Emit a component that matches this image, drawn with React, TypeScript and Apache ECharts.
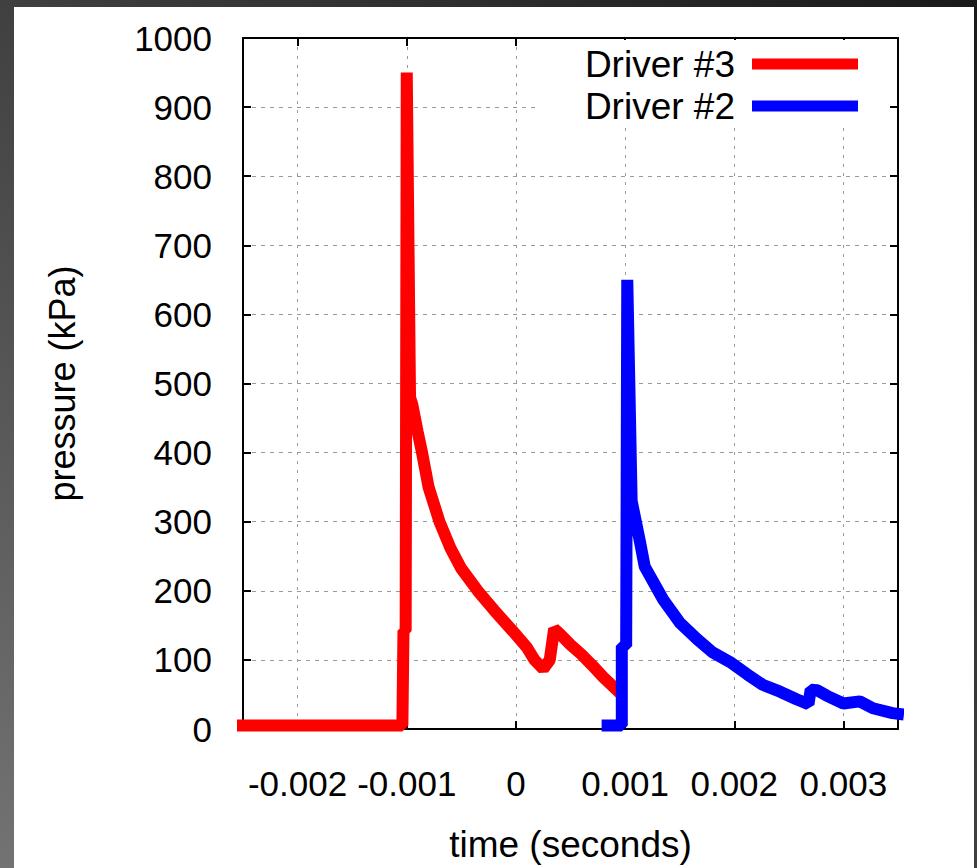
import React, { useEffect, useRef } from "react";
import * as echarts from "echarts";

// Driver #3 (red) — time in seconds, pressure in kPa
const driver3Time = [
  -0.0025, -0.00104, -0.00103, -0.00101, -0.001, -0.00097, -0.00095, -0.0009,
  -0.00086, -0.0008, -0.0007, -0.0006, -0.0005, -0.00035, -0.0002, -0.00003,
  0.0001, 0.00017, 0.00025, 0.00031, 0.00035, 0.0004, 0.0005, 0.0006, 0.0007,
  0.0008, 0.00092,
];
const driver3Pressure = [
  5, 5, 142, 142, 950, 480, 470, 430, 400, 350, 300, 262, 232, 200, 172, 142,
  118, 100, 87, 100, 145, 138, 122, 108, 92, 75, 57,
];

// Driver #2 (blue)
const driver2Time = [
  0.00084, 0.00097, 0.00097, 0.00101, 0.00102, 0.00106, 0.00114, 0.00118,
  0.00135, 0.0015, 0.00166, 0.0018, 0.00196, 0.00212, 0.00226, 0.00242,
  0.00257, 0.00268, 0.0027, 0.00276, 0.00285, 0.003, 0.00315, 0.00327,
  0.00345, 0.0035,
];
const driver2Pressure = [
  5, 5, 120, 120, 650, 330, 268, 235, 187, 154, 130, 111, 97, 79, 64, 54, 43,
  36, 57, 56, 48, 37, 40, 30, 23, 22,
];

const xTicks = [-0.002, -0.001, 0, 0.001, 0.002, 0.003];
const seriesNames = ["Driver #3", "Driver #2"];

const FONT = '"Liberation Sans", Arial, sans-serif';

export default function App() {
  const ref = useRef<HTMLDivElement>(null);

  useEffect(() => {
    if (!ref.current) return;
    const chart = echarts.init(ref.current, undefined, { renderer: "svg" });
    const d3 = driver3Time.map((t, i) => [t, driver3Pressure[i]]);
    const d2 = driver2Time.map((t, i) => [t, driver2Pressure[i]]);
    const fmt = (v: number) => String(parseFloat(Number(v).toFixed(4)));

    const baseX = {
      type: "value",
      min: -0.0025,
      max: 0.0035,
      axisLine: { show: true, onZero: false, lineStyle: { color: "#000", width: 2 } },
    };
    const baseY = {
      type: "value",
      min: 0,
      max: 1000,
      interval: 100,
      axisLine: { show: true, onZero: false, lineStyle: { color: "#000", width: 2 } },
    };

    chart.setOption({
      animation: false,
      backgroundColor: "transparent",
      grid: { left: 243, right: 79, top: 38, bottom: 131, containLabel: false },
      legend: {
        data: seriesNames,
        orient: "vertical",
        right: 89,
        top: 40,
        align: "right",
        icon: "rect",
        itemWidth: 106,
        itemHeight: 11,
        itemGap: 0,
        padding: [3, 30, 1, 47],
        backgroundColor: "#ffffff",
        textStyle: {
          fontFamily: FONT,
          fontSize: 37,
          color: "#000",
          lineHeight: 42,
          padding: [0, 12, 0, 0],
        },
        inactiveColor: "#ccc",
      },
      xAxis: [
        {
          ...baseX,
          position: "bottom",
          name: "time (seconds)",
          nameLocation: "middle",
          nameGap: 97,
          nameTextStyle: { fontFamily: FONT, fontSize: 37, color: "#000" },
          axisTick: { show: true, inside: true, length: 8, customValues: xTicks, lineStyle: { color: "#000", width: 2 } },
          axisLabel: {
            show: true,
            customValues: xTicks,
            formatter: fmt,
            fontFamily: FONT,
            fontSize: 35,
            color: "#000",
            margin: 37,
            hideOverlap: false,
          },
          splitLine: { show: true, lineStyle: { color: "#9a9a9a", width: 1, type: [3, 6] } },
        },
        {
          ...baseX,
          position: "top",
          axisTick: { show: true, inside: true, length: 8, customValues: xTicks, lineStyle: { color: "#000", width: 2 } },
          axisLabel: { show: false },
          splitLine: { show: false },
        },
      ],
      yAxis: [
        {
          ...baseY,
          position: "left",
          name: "pressure (kPa)",
          nameLocation: "middle",
          nameGap: 163,
          nameRotate: 90,
          nameTextStyle: { fontFamily: FONT, fontSize: 36, color: "#000" },
          axisTick: { show: true, inside: true, length: 8, lineStyle: { color: "#000", width: 2 } },
          axisLabel: { fontFamily: FONT, fontSize: 35, color: "#000", margin: 31, formatter: (v: number) => String(v) },
          splitLine: { show: true, lineStyle: { color: "#9a9a9a", width: 1, type: [4, 5] } },
        },
        {
          ...baseY,
          position: "right",
          axisTick: { show: true, inside: true, length: 8, lineStyle: { color: "#000", width: 2 } },
          axisLabel: { show: false },
          splitLine: { show: false },
        },
      ],
      series: [
        {
          name: seriesNames[0],
          type: "line",
          xAxisIndex: 0,
          yAxisIndex: 0,
          data: d3,
          showSymbol: false,
          clip: false,
          color: "#ff0000",
          lineStyle: { color: "#ff0000", width: 12, join: "bevel", cap: "square" },
          z: 3,
        },
        {
          name: seriesNames[1],
          type: "line",
          xAxisIndex: 0,
          yAxisIndex: 0,
          data: d2,
          showSymbol: false,
          clip: false,
          color: "#0000ff",
          lineStyle: { color: "#0000ff", width: 12, join: "bevel", cap: "square" },
          z: 3,
        },
      ],
    });
    return () => chart.dispose();
  }, []);

  return (
    <div
      style={{
        position: "absolute",
        left: 0,
        top: 0,
        width: 977,
        height: 868,
        background: "linear-gradient(to top right, #737373 0%, #404040 50%, #1a1a1a 100%)",
        overflow: "hidden",
      }}
    >
      <div
        style={{ position: "absolute", left: 14, top: 7, width: 960, height: 861, background: "#ffffff" }}
      />
      <div ref={ref} style={{ position: "absolute", left: 0, top: 0, width: 977, height: 868 }} />
    </div>
  );
}
